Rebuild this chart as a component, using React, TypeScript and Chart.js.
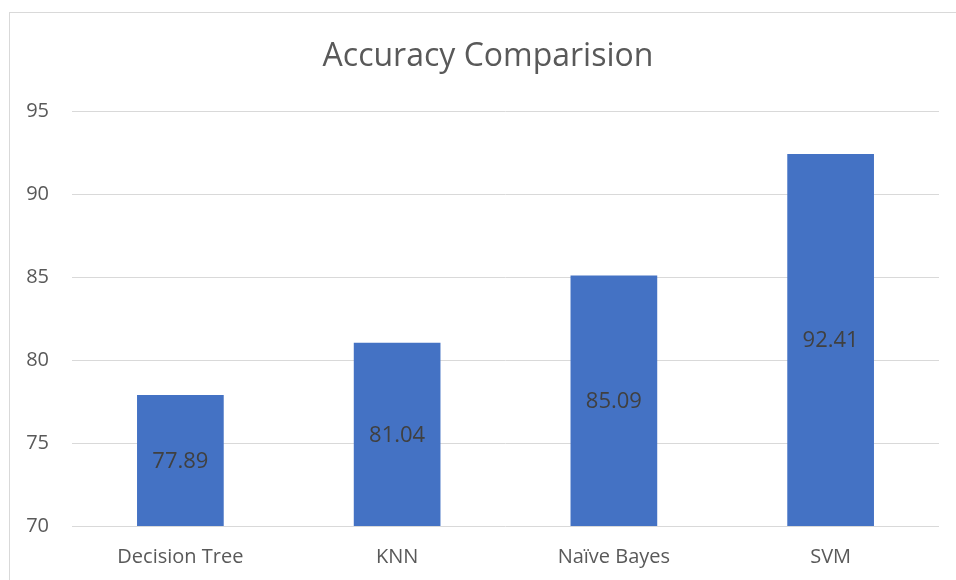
import React, { useEffect, useRef } from "react";
import { Chart, registerables } from "chart.js";

Chart.register(...registerables);

const categories = ["Decision Tree", "KNN", "Naïve Bayes", "SVM"];
const accuracy = [77.89, 81.04, 85.09, 92.41];
const yMin = 70;
const yMax = 95;
const yStep = 5;
const titleText = "Accuracy Comparision";

const FONT = "'Open Sans', 'Liberation Sans', sans-serif";

const barLabels = {
  id: "barLabels",
  afterDraw(chart: any) {
    const ctx = chart.ctx;
    const meta = chart.getDatasetMeta(0);
    const yScale = chart.scales.y;
    const base = yScale.getPixelForValue(yMin);
    ctx.save();
    ctx.font = "22px " + FONT;
    ctx.fillStyle = "#404040";
    ctx.textAlign = "center";
    ctx.textBaseline = "middle";
    for (let i = 0; i < accuracy.length; i++) {
      const el = meta.data[i];
      const x = el.x;
      const top = yScale.getPixelForValue(accuracy[i]);
      ctx.fillText(accuracy[i].toFixed(2), x, (top + base) / 2 + 1);
    }
    // title
    ctx.font = "32px " + FONT;
    ctx.fillStyle = "#595959";
    ctx.fillText(titleText, 488, 57);
    ctx.restore();
  },
};

export default function App() {
  const ref = useRef<HTMLCanvasElement | null>(null);
  useEffect(() => {
    if (!ref.current) return;
    const chart = new Chart(ref.current, {
      type: "bar",
      data: {
        labels: categories,
        datasets: [
          {
            data: accuracy,
            backgroundColor: "#4472C4",
            borderWidth: 0,
            barPercentage: 0.4,
            categoryPercentage: 1,
          },
        ],
      },
      plugins: [barLabels],
      options: {
        responsive: false,
        animation: false,
        layout: { padding: { left: 0, right: 17, top: 111, bottom: 0 } },
        plugins: {
          legend: { display: false },
          tooltip: { enabled: false },
          title: { display: false },
        },
        scales: {
          x: {
            grid: { display: false, drawTicks: false },
            border: { display: false },
            ticks: {
              color: "#595959",
              font: { family: FONT, size: 20 },
              padding: 19,
            },
            afterFit(scale: any) {
              scale.height = 54;
            },
          },
          y: {
            min: yMin,
            max: yMax,
            grid: { color: "#d9d9d9", lineWidth: 1, drawTicks: false },
            border: { display: false },
            ticks: {
              stepSize: yStep,
              color: "#595959",
              font: { family: FONT, size: 20 },
              padding: 23,
            },
            afterFit(scale: any) {
              scale.width = 72;
            },
          },
        },
      },
    });
    return () => chart.destroy();
  }, []);
  return (
    <div style={{ position: "fixed", left: 0, top: 0, width: 956, height: 580, background: "#fff" }}>
      <div
        style={{
          position: "absolute",
          left: 9,
          top: 12,
          width: 947,
          height: 568,
          borderLeft: "1px solid #d9d9d9",
          borderTop: "1px solid #d9d9d9",
          boxSizing: "border-box",
        }}
      />
      <canvas ref={ref} width={956} height={580} style={{ position: "absolute", left: 0, top: 0 }} />
    </div>
  );
}
